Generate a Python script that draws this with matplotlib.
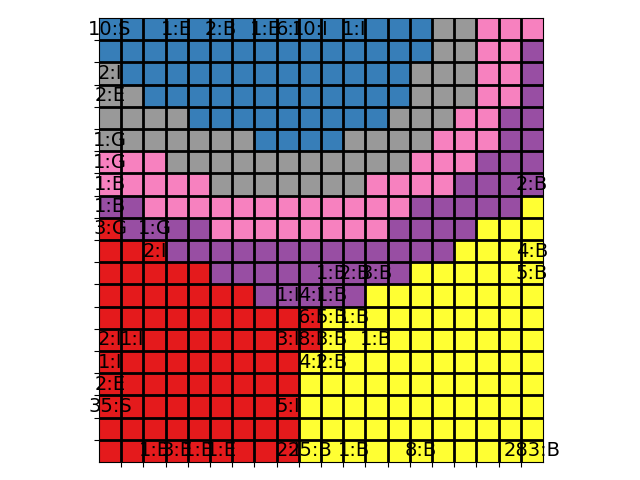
import numpy as np
import matplotlib
matplotlib.use("Agg")
import matplotlib.pyplot as plt
from matplotlib.colors import ListedColormap

# category codes and colours (Set1-like)
categories = ["R", "B", "U", "Y", "P", "G"]
colors = ["#e41a1c", "#377eb8", "#984ea3", "#ffff33", "#f781bf", "#999999"]

grid_rows = [
    "BBBBBBBBBBBBBBBGGPPP",
    "BBBBBBBBBBBBBBBGGPPU",
    "GBBBBBBBBBBBBBGGGPPU",
    "GGBBBBBBBBBBBBGGGPPU",
    "GGGGBBBBBBBBBGGGPPUU",
    "GGGGGGGBBBBGGGGPPPUU",
    "PPPGGGGGGGGGGGPPPUUU",
    "PPPPPGGGGGGGPPPPUUUU",
    "UUPPPPPPPPPPPPUUUUUY",
    "RUUUUPPPPPPPPUUUUYYY",
    "RRRUUUUUUUUUUUUUYYYY",
    "RRRRRUUUUUUUUUYYYYYY",
    "RRRRRRRUUUUUYYYYYYYY",
    "RRRRRRRRRRYYYYYYYYYY",
    "RRRRRRRRRRYYYYYYYYYY",
    "RRRRRRRRRYYYYYYYYYYY",
    "RRRRRRRRRYYYYYYYYYYY",
    "RRRRRRRRRYYYYYYYYYYY",
    "RRRRRRRRRYYYYYYYYYYY",
    "RRRRRRRRRYYYYYYYYYYY",
]

# cell labels: (row, col, text)
label_rows = [0, 0, 0, 0, 0, 0, 0,
              2, 3, 5, 6, 7, 7, 8, 9, 9,
              10, 10, 11, 11, 11, 11,
              12, 12, 12, 13, 13, 13,
              14, 14, 14, 14, 14, 14,
              15, 15, 15, 16, 17, 17,
              19, 19, 19, 19, 19, 19, 19, 19, 19]
label_cols = [0, 3, 5, 7, 8, 9, 11,
              0, 0, 0, 0, 0, 19, 0, 0, 2,
              2, 19, 10, 11, 12, 19,
              8, 9, 10, 9, 10, 11,
              0, 1, 8, 9, 10, 12,
              0, 9, 10, 0, 0, 8,
              2, 3, 4, 5, 8, 9, 11, 14, 19]
label_texts = ["10:S", "1:E", "2:B", "1:E", "6:I", "10:I", "1:I",
               "2:I", "2:E", "1:G", "1:G", "1:B", "2:B", "1:B", "3:G", "1:G",
               "2:I", "4:B", "1:B", "2:B", "3:B", "5:B",
               "1:I", "4:I", "1:B", "6:I", "5:B", "1:B",
               "2:I", "1:I", "3:I", "8:I", "3:B", "1:B",
               "1:I", "4:I", "2:B", "2:E", "35:S", "5:I",
               "1:E", "3:E", "1:E", "1:E", "2:I", "25:B", "1:B", "8:B", "283:B"]

code = {c: i for i, c in enumerate(categories)}
data = np.array([[code[ch] for ch in row] for row in grid_rows])
n_rows, n_cols = data.shape

fig = plt.figure(figsize=(6.4, 4.8), dpi=100)
ax = fig.add_axes([99 / 640, 18 / 480, 444 / 640, 444 / 480])
ax.imshow(data, cmap=ListedColormap(colors), vmin=-0.5, vmax=len(colors) - 0.5,
          interpolation="nearest", aspect="equal", zorder=0)

for r, c, t in zip(label_rows, label_cols, label_texts):
    ax.text(c, r, t, ha="center", va="center", fontsize=14, color="black", zorder=2)

ax.set_axisbelow(False)
ax.set_xticks(np.arange(0.5, n_cols - 1, 1))
ax.set_yticks(np.arange(0.5, n_rows - 1, 1))
ax.set_xticklabels([])
ax.set_yticklabels([])
ax.grid(True, color="black", linewidth=2)
ax.set_xlim(-0.5, n_cols - 0.5)
ax.set_ylim(n_rows - 0.5, -0.5)

fig.savefig("out.png", dpi=100)
